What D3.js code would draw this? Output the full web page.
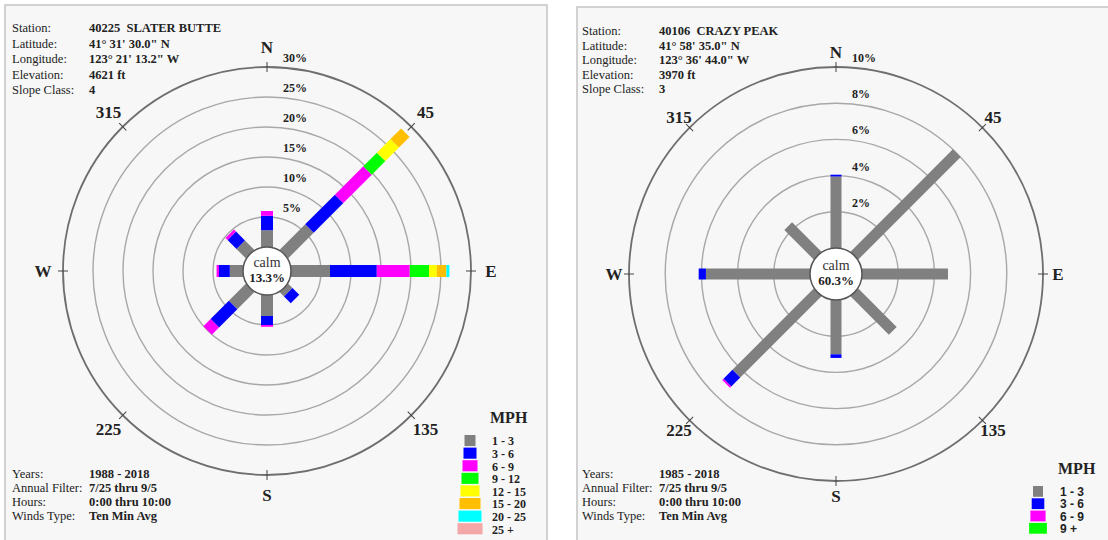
<!DOCTYPE html>
<html>
<head>
<meta charset="utf-8">
<script src="https://cdn.jsdelivr.net/npm/d3@7"></script>
<style>
  body { margin: 0; background: #ffffff; }
  svg { display: block; }
  text { white-space: pre; }
</style>
</head>
<body>
<svg id="viz" width="1108" height="540"></svg>
<script>
// directions, clockwise from north
const directions = ["N", "NE", "E", "SE", "S", "SW", "W", "NW"];
const compassLabels = ["N", "45", "E", "135", "S", "225", "W", "315"];

// Slater Butte: % per speed class, one array per direction
const slaterClasses = ["1 - 3", "3 - 6", "6 - 9", "9 - 12", "12 - 15", "15 - 20", "20 - 25", "25 +"];
const slaterN  = [2.8, 2.4, 0.8, 0, 0, 0, 0, 0];
const slaterNE = [6.0, 7.0, 6.7, 3.2, 3.2, 2.5, 0, 0];
const slaterE  = [6.5, 7.8, 5.5, 3.2, 1.3, 1.6, 0.5, 0];
const slaterSE = [1.0, 1.6, 0, 0, 0, 0, 0, 0];
const slaterS  = [3.5, 1.5, 0.3, 0, 0, 0, 0, 0];
const slaterSW = [4.0, 4.3, 1.7, 0, 0, 0, 0, 0];
const slaterW  = [2.2, 1.8, 0.4, 0, 0, 0, 0, 0];
const slaterNW = [2.2, 2.1, 0.5, 0, 0, 0, 0, 0];
const slaterCalm = 13.3;
const slaterRings = [5, 10, 15, 20, 25, 30];
const slaterInfo = ["40225  SLATER BUTTE", "41\u00b0 31' 30.0\" N", "123\u00b0 21' 13.2\" W", "4621 ft", "4"];
const slaterPeriod = ["1988 - 2018", "7/25 thru 9/5", "0:00 thru 10:00", "Ten Min Avg"];

// Crazy Peak
const crazyClasses = ["1 - 3", "3 - 6", "6 - 9", "9 +"];
const crazyN  = [3.95, 0.1, 0, 0];
const crazyNE = [8.0, 0, 0, 0];
const crazyE  = [4.75, 0, 0, 0];
const crazySE = [3.0, 0, 0, 0];
const crazyS  = [3.0, 0.2, 0, 0];
const crazySW = [6.35, 0.7, 0.1, 0];
const crazyW  = [5.75, 0.4, 0, 0];
const crazyNW = [2.3, 0, 0, 0];
const crazyCalm = 60.3;
const crazyRings = [2, 4, 6, 8, 10];
const crazyInfo = ["40106  CRAZY PEAK", "41\u00b0 58' 35.0\" N", "123\u00b0 36' 44.0\" W", "3970 ft", "3"];
const crazyPeriod = ["1985 - 2018", "7/25 thru 9/5", "0:00 thru 10:00", "Ten Min Avg"];

const infoLabels = ["Station:", "Latitude:", "Longitude:", "Elevation:", "Slope Class:"];
const periodLabels = ["Years:", "Annual Filter:", "Hours:", "Winds Type:"];

const speedColors = ["#808080", "#0000ff", "#ff00ff", "#00ff00", "#ffff00", "#ffbf00", "#00ffff", "#f4a7a7"];

const svg = d3.select("#viz");
const serif = "'Liberation Serif', 'DejaVu Serif', serif";

function drawPanel(opt) {
  const panel = svg.append("g");

  panel.append("rect")
    .attr("x", opt.box[0]).attr("y", opt.box[1])
    .attr("width", opt.box[2]).attr("height", opt.box[3])
    .attr("fill", "#f7f7f7")
    .attr("stroke", "#c4c4c4")
    .attr("stroke-width", 1.5);

  const g = panel.append("g").attr("transform", `translate(${opt.cx},${opt.cy})`);

  const maxRing = d3.max(opt.rings);
  const r = d3.scaleLinear().domain([0, maxRing]).range([opt.calmR, opt.outerR]);
  const color = d3.scaleOrdinal().domain(opt.classes).range(speedColors);

  // rings
  g.selectAll("circle.ring")
    .data(opt.rings)
    .enter()
    .append("circle")
    .attr("class", "ring")
    .attr("r", d => r(d))
    .attr("fill", "none")
    .attr("stroke", d => d === maxRing ? "#6e6e6e" : "#a8a8a8")
    .attr("stroke-width", d => d === maxRing ? 1.8 : 1.4);

  // ring labels
  g.selectAll("text.ringlab")
    .data(opt.rings)
    .enter()
    .append("text")
    .attr("x", 16)
    .attr("y", d => -r(d) - 5)
    .attr("font-family", serif)
    .attr("font-weight", "bold")
    .attr("font-size", 12)
    .attr("fill", "#222")
    .text(d => d + "%");

  // compass ticks + labels
  const angles = directions.map((d, i) => i * 45);
  g.selectAll("line.ctick")
    .data(angles)
    .enter()
    .append("line")
    .attr("transform", d => `rotate(${d})`)
    .attr("x1", 0).attr("x2", 0)
    .attr("y1", -opt.outerR - 5).attr("y2", -opt.outerR + 5)
    .attr("stroke", "#444")
    .attr("stroke-width", 1);

  g.selectAll("text.clab")
    .data(compassLabels)
    .enter()
    .append("text")
    .attr("x", (d, i) => opt.labelR * Math.sin(angles[i] * Math.PI / 180))
    .attr("y", (d, i) => -opt.labelR * Math.cos(angles[i] * Math.PI / 180))
    .attr("text-anchor", "middle")
    .attr("dominant-baseline", "central")
    .attr("font-family", serif)
    .attr("font-weight", "bold")
    .attr("font-size", 17)
    .attr("fill", "#222")
    .text(d => d);

  // bars: stacked along each direction
  const segs = [];
  opt.values.forEach((vals, i) => {
    let acc = 0;
    vals.forEach((v, k) => {
      if (v > 0) segs.push({ angle: angles[i], from: acc, to: acc + v, cls: opt.classes[k] });
      acc += v;
    });
  });

  g.selectAll("rect.seg")
    .data(segs)
    .enter()
    .append("rect")
    .attr("transform", d => `rotate(${d.angle})`)
    .attr("x", -opt.barW / 2)
    .attr("y", d => -r(d.to))
    .attr("width", opt.barW)
    .attr("height", d => r(d.to) - r(d.from))
    .attr("fill", d => color(d.cls));

  // calm circle
  g.append("circle")
    .attr("r", opt.calmR)
    .attr("fill", "#ffffff")
    .attr("stroke", "#555")
    .attr("stroke-width", 1.5);
  g.append("text")
    .attr("y", -4)
    .attr("text-anchor", "middle")
    .attr("font-family", serif)
    .attr("font-size", 14)
    .attr("fill", "#333")
    .text("calm");
  g.append("text")
    .attr("y", 11)
    .attr("text-anchor", "middle")
    .attr("font-family", serif)
    .attr("font-weight", "bold")
    .attr("font-size", 13)
    .attr("fill", "#222")
    .text(opt.calm + "%");

  // station info
  const info = panel.append("g").attr("font-family", serif).attr("font-size", 12.5).attr("fill", "#222");
  infoLabels.forEach((t, i) => {
    info.append("text").attr("x", opt.textX).attr("y", opt.infoY + i * opt.infoStep).text(t);
    info.append("text").attr("x", opt.valueX).attr("y", opt.infoY + i * opt.infoStep)
      .attr("font-weight", "bold").text(opt.info[i]);
  });
  periodLabels.forEach((t, i) => {
    info.append("text").attr("x", opt.textX).attr("y", opt.periodY + i * 14).text(t);
    info.append("text").attr("x", opt.valueX).attr("y", opt.periodY + i * 14)
      .attr("font-weight", "bold").text(opt.period[i]);
  });

  // legend
  const leg = panel.append("g");
  leg.append("text")
    .attr("x", opt.legX + 20).attr("y", opt.legY - 12)
    .attr("font-family", serif)
    .attr("font-weight", "bold")
    .attr("font-size", 16)
    .attr("fill", "#222")
    .text("MPH");
  opt.classes.forEach((c, i) => {
    const w = opt.legW0 + i * opt.legDW;
    leg.append("rect")
      .attr("x", opt.legX - w / 2)
      .attr("y", opt.legY + i * opt.legStep)
      .attr("width", w)
      .attr("height", opt.legStep - 1.5)
      .attr("fill", color(c));
    leg.append("text")
      .attr("x", opt.legX + 22)
      .attr("y", opt.legY + i * opt.legStep + opt.legStep / 2)
      .attr("dominant-baseline", "central")
      .attr("font-family", opt.legFont)
      .attr("font-weight", "bold")
      .attr("font-size", 12)
      .attr("fill", "#222")
      .text(c);
  });
}

drawPanel({
  box: [5, 5, 542, 545],
  cx: 267, cy: 271, outerR: 204, calmR: 24, labelR: 224, barW: 12,
  rings: slaterRings, classes: slaterClasses, calm: slaterCalm,
  values: [slaterN, slaterNE, slaterE, slaterSE, slaterS, slaterSW, slaterW, slaterNW],
  info: slaterInfo, period: slaterPeriod,
  textX: 12, valueX: 89, infoY: 32, infoStep: 15.5, periodY: 478,
  legX: 470, legY: 435, legStep: 12.6, legW0: 11, legDW: 2, legFont: serif
});

drawPanel({
  box: [577, 7, 540, 545],
  cx: 836, cy: 274, outerR: 207, calmR: 26, labelR: 222, barW: 11,
  rings: crazyRings, classes: crazyClasses, calm: crazyCalm,
  values: [crazyN, crazyNE, crazyE, crazySE, crazyS, crazySW, crazyW, crazyNW],
  info: crazyInfo, period: crazyPeriod,
  textX: 582, valueX: 659, infoY: 35, infoStep: 14.5, periodY: 478,
  legX: 1038, legY: 486, legStep: 12.3, legW0: 10, legDW: 2.6, legFont: "'Liberation Sans', Arial, sans-serif"
});
</script>
</body>
</html>
